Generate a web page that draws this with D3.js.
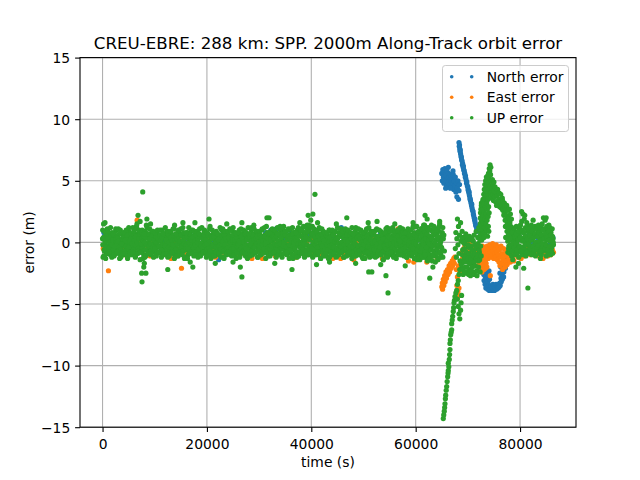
<!DOCTYPE html>
<html>
<head>
<meta charset="utf-8">
<script src="https://cdn.jsdelivr.net/npm/d3@7"></script>
<style>
  body { margin: 0; background: #fff; }
  text { font-family: "DejaVu Sans", sans-serif; }
</style>
</head>
<body>
<svg id="chart" width="640" height="480"></svg>
<script>
// ---- chart data (time in s, error in m) ----
const titleText = 'CREU-EBRE: 288 km: SPP. 2000m Along-Track orbit error';
const xTicks = [0, 20000, 40000, 60000, 80000];
const yTicks = [-15, -10, -5, 0, 5, 10, 15];
const seriesNames = ['North error', 'East error', 'UP error'];
const seriesColors = ['#1f77b4', '#ff7f0e', '#2ca02c'];

// North error
const northBand = [
[250,0.8],[750,0.5],[1250,-0.3],[1750,0.2],[2250,-0.6],[2750,0.4],[3250,0.0],[3750,-0.5],[4250,0.6],[4750,-0.2],
[5250,0.3],[5750,-0.7],[6250,0.1],[6750,0.5],[7250,-0.4],[7750,0.7],[8250,-0.1],[8750,-0.6],[9250,0.2],[9750,0.4],
[10250,-0.3],[10750,0.6],[11250,-0.5],[11750,0.0],[12250,0.3],[12750,-0.8],[13250,0.5],[13750,-0.2],[14250,0.1],[14750,0.6],
[15250,-0.4],[15750,0.2],[16250,-0.6],[16750,0.7],[17250,0.0],[17750,-0.3],[18250,0.4],[18750,-0.7],[19250,0.3],[19750,-0.1],
[20250,0.5],[20750,-0.5],[21250,0.2],[22250,-1.4],[22750,0.6],[23250,-0.2],[23750,0.1],[24250,-0.6],[24750,0.4],[25250,0.0],
[25750,-0.4],[26250,0.7],[26750,-0.1],[27250,0.3],[27750,-0.7],[28250,0.5],[28750,0.1],[29250,-0.3],[29750,0.6],[30250,-0.5],
[30750,0.2],[31250,0.8],[31750,-0.2],[32250,1.0],[32750,0.4],[33250,1.1],[33750,-0.4],[34250,0.9],[34750,0.2],[35250,-0.6],
[35750,1.0],[36250,0.3],[36750,-0.3],[37250,0.7],[37750,-0.1],[38250,0.5],[38750,-0.7],[39250,0.2],[39750,0.6],[40250,-0.2],
[40750,0.4],[41250,-0.5],[41750,0.1],[42250,0.6],[42750,-0.3],[43250,0.2],[43750,-0.8],[44250,0.5],[44750,0.0],[45250,-0.4],
[45750,1.2],[46250,0.3],[46750,-0.6],[47250,0.2],[47750,0.7],[48250,-0.2],[48750,0.4],[49250,-0.5],[49750,0.1],[50250,0.6],
[50750,-0.3],[51250,0.5],[51750,-0.1],[52250,0.3],[52750,-0.6],[53250,0.8],[53750,0.0],[54250,-0.4],[54750,0.9],[55250,0.2],
[55750,-0.5],[56250,0.4],[56750,0.1],[57250,-0.3],[57750,0.6],[58250,-0.7],[58750,0.3],[59250,-0.1],[59750,0.5],[60250,-0.4],
[60750,0.2],[61250,0.7],[61750,-0.6],[62250,0.4],[62750,-0.2],[63250,0.9],[63750,-0.8],[64250,0.3],[64750,0.1]
];
const northCluster = [
[65000,5.6],[65100,5.0],[65200,5.9],[65300,5.3],[65400,4.8],[65500,5.7],[65600,6.0],[65700,5.1],[65800,5.5],[65900,4.6],
[66000,5.8],[66100,5.2],[66200,4.9],[66300,5.6],[66400,5.3],[66500,4.7],[66600,5.5],[66700,5.0],[66800,5.4],[66900,4.5],
[67000,5.2],[67100,4.8],[67200,5.5],[67300,4.3],[67400,5.0],[67500,4.6],[67600,5.3],[67700,4.1],[67800,4.8],[67900,3.7],
[68000,4.4],[68100,5.0],[68200,3.5],[68300,4.2],[68400,4.7],[65350,5.0],[65750,4.4],[66250,6.1],[66650,4.4],[67150,5.8]
];
const northLine = [
[68300,8.1],[68350,7.8],[68400,7.9],[68450,7.6],[68500,7.4],[68550,7.5],[68600,7.2],[68700,7.0],[68750,6.9],[68800,6.7],
[68900,6.6],[68950,6.3],[69000,6.4],[69100,6.1],[69150,6.2],[69200,5.9],[69300,5.8],[69350,5.6],[69400,5.6],[69500,5.3],
[69550,5.4],[69600,5.2],[69700,5.0],[69750,4.8],[69800,4.9],[69900,4.6],[70000,4.5],[70050,4.3],[70100,4.2],[70200,4.0],
[70250,4.1],[70300,3.8],[70400,3.6],[70450,3.5],[70500,3.4],[70600,3.2],[70700,3.0],[70750,3.1],[70800,2.8],[70900,2.6],
[71000,2.5],[71050,2.3],[71100,2.2],[71200,2.0],[71300,1.8],[71350,1.9],[71400,1.6],[71500,1.4],[71600,1.3],[71700,1.1],
[71800,0.9]
];
const northDip = [
[72900,-1.2],[72950,-2.0],[73000,-1.6],[73050,-2.6],[73100,-3.1],[73150,-1.9],[73200,-2.4],[73300,-3.4],[73350,-2.8],[73400,-1.4],
[73450,-3.7],[73500,-2.2],[73600,-3.0],[73650,-3.6],[73700,-2.5],[73800,-3.8],[73850,-3.2],[73900,-2.7],[74000,-3.5],[74050,-2.3],
[74100,-3.9],[74150,-3.0],[74300,-3.6],[74400,-3.8],[74500,-3.5],[74600,-3.9],[74700,-3.7],[74800,-3.4],[74900,-3.8],[75000,-3.6],
[75100,-3.9],[75200,-3.5],[75300,-3.7],[75400,-3.4],[75500,-3.8],[75600,-3.6],[75700,-3.5],[75800,-3.7],[75900,-3.4],[76000,-3.6],
[76100,-3.3],[76150,-2.5],[76200,-3.5],[76300,-2.0],[76350,-2.9],[76400,-3.2],[76500,-1.8],[76550,-2.6],[76600,-3.0],[76700,-2.2],
[76800,-1.6],[76850,-2.8],[76900,-2.4],[77000,-1.9],[77100,-1.5],[77200,-2.1],[77300,-1.7],[77400,-1.3],[77500,-1.0]
];
const northTail = [
[77800,0.3],[78300,-0.4],[78800,0.5],[79300,-0.2],[79800,0.6],[80300,-0.5],[80800,0.2],[81300,-0.3],[81800,0.7],[82300,0.0],
[82800,-0.6],[83300,0.4],[83800,-0.2],[84300,0.5],[84800,-0.4],[85300,0.3],[85800,-0.1],[86300,0.4]
];

// East error
const eastBand = [
[125,-0.5],[1125,-2.3],[1625,-0.2],[2125,0.3],[2625,-0.8],[3125,0.1],[3625,-0.4],[4125,-1.0],[4625,0.5],[625,-0.6],
[5125,0.2],[5625,-0.9],[6125,-0.3],[6625,1.8],[7125,-0.1],[7625,-0.7],[8125,0.4],[8625,-0.5],[9125,-1.1],[9625,0.0],
[10125,-0.4],[10625,0.3],[11125,-0.8],[11625,-0.2],[12125,0.5],[12625,-0.6],[13125,-1.3],[13625,-0.1],[14125,-0.5],[14625,0.2],
[15125,-2.1],[15625,-0.3],[16125,-0.9],[16625,0.1],[17125,-0.6],[17625,-0.2],[18125,0.4],[18625,-1.0],[19125,-0.4],[19625,0.0],
[20125,-0.7],[20625,0.3],[21125,-0.5],[21625,-1.2],[22125,-0.1],[22625,0.2],[23125,-0.8],[23625,-0.3],[24125,0.5],[24625,-0.6],
[25125,-0.2],[25625,-1.0],[26125,0.1],[26625,-0.5],[27125,-0.9],[27625,0.4],[28125,-0.3],[28625,-1.3],[29125,-0.1],[29625,0.2],
[30125,-0.6],[30625,-1.3],[31125,0.3],[31625,-0.8],[32125,-0.4],[32625,0.1],[33125,-1.1],[33625,-0.5],[34125,0.6],[34625,-0.3],
[35125,-0.9],[35625,0.0],[36125,-0.4],[36625,0.3],[37125,-1.2],[37625,-0.2],[38125,0.5],[38625,-0.7],[39125,-0.1],[39625,-0.5],
[40125,0.2],[40625,-0.8],[41125,-0.3],[41625,0.4],[42125,-1.0],[42625,-0.6],[43125,0.1],[43625,-0.4],[44125,-1.3],[44625,0.0],
[45125,-0.5],[45625,-1.3],[46125,-0.9],[46625,-0.2],[47125,0.5],[47625,-0.7],[48125,-1.4],[48625,0.1],[49125,-0.3],[49625,-0.8],
[50125,0.2],[50625,-0.5],[51125,-1.1],[51625,0.4],[52125,-0.2],[52625,-0.7],[53125,0.0],[53625,-1.3],[54125,0.3],[54625,-0.4],
[55125,-0.8],[55625,0.1],[56125,-0.3],[56625,1.1],[57125,0.5],[57625,-0.6],[58125,-0.1],[58625,-1.5],[59125,0.2],[59625,-1.6],
[60125,-0.4],[60625,-1.2],[61125,-0.7],[61625,0.3],[62125,-1.6],[62625,-0.5],[63125,-1.1],[63625,-0.2],[64125,-1.4],[64625,-0.8]
];
const eastDrop = [
[65000,-3.6],[65100,-3.3],[65150,-3.8],[65250,-3.4],[65300,-3.0],[65400,-3.5],[65500,-3.1],[65550,-2.7],[65650,-3.2],[65750,-2.8],
[65800,-2.4],[65900,-2.9],[66000,-2.5],[66100,-2.2],[66200,-2.6],[66300,-2.3],[66400,-1.9],[66500,-2.4],[66600,-2.0],[66700,-1.7],
[66800,-2.1],[66900,-1.8],[67000,-1.5],[67100,-1.9],[67200,-1.6],[67300,-1.3],[67400,-1.7],[67500,-1.2],
[67800,-2.2],[67900,-3.5],[68000,-2.8],[68100,-4.0],[68200,-1.9],[68300,-3.7],[68400,-4.3],[68500,-2.5],[68600,-1.6],[68700,-2.1],
[68900,-0.8],[69000,-1.3],[69200,-0.5],[69400,-0.2],[69600,0.2],[69800,-0.4],[70000,0.3],[70200,-0.1],[70400,-0.6],[70600,0.1],
[70800,-0.9],[71000,-0.3],[71200,-1.2],[71400,-0.7],[71600,-1.5],[71800,-0.4],[72000,-1.0],[72200,-1.8]
];
const eastBlob = [
[72300,-0.6],[72350,-1.7],[72400,-1.1],[72450,-2.2],[72500,-0.4],[72550,-1.4],[72600,-1.9],[72650,-0.8],[72700,-2.4],[72750,-1.2],
[72800,-0.3],[72850,-1.6],[72900,-2.0],[72950,-0.9],[73000,-1.4],[73050,-0.5],[73100,-2.2],[73150,-1.1],[73200,-1.8],[73250,-0.7],
[73300,-1.5],[73350,-2.1],[73400,-0.4],[73450,-1.0],[73500,-1.7],[73550,-0.8],[73600,-1.3],[73650,-2.0],
[73700,-0.3],[73800,-0.9],[73900,-1.3],[74000,-0.5],[74100,-1.1],[74200,-0.2],[74300,-2.7],[74350,-0.8],[74450,-1.2],[74550,-0.4],
[74650,-1.0],[74750,-0.1],[74850,-0.7],[74950,-1.3],[75050,-0.3],[75150,-0.9],[75250,-0.5],[75350,-1.2],[75450,-0.2],[75550,-0.8],
[75650,-1.4],[75750,-0.4],[75850,-1.0],[75950,-1.6],
[76050,-0.6],[76150,-1.9],[76250,-1.2],[76350,-0.3],[76450,-1.7],[76550,-0.9],[76650,-2.2],[76750,-1.4],[76850,-0.5],[76950,-1.8],
[77050,-1.1],[77150,-2.0],[77250,-0.7],[77350,-1.5],[77450,-1.0],[77550,-1.8],
[77700,-0.8],[77850,-1.3],[78000,-1.0],[78150,-1.6],[78300,-0.9],[78450,-1.4],[78600,-1.1],[78800,-1.5],[79000,-0.9]
];
const eastTail = [
[79300,-0.7],[79600,-1.2],[79900,-0.4],[80200,-1.3],[80500,-0.8],[80800,-1.1],[81100,-0.3],[81400,-0.9],[81700,-0.5],[82000,-1.0],
[82300,-0.4],[82600,-0.7],[82900,-0.2],[83200,-0.9],[83500,-0.4],[83800,-1.2],[84100,-0.6],[84400,-1.3],[84700,-0.9],[85000,-0.5],
[85300,-1.1],[85600,-0.7],[85900,-1.0],[86200,-0.6],[86400,-0.8]
];

// UP error
const upBand = [
[0,0.3],[100,-1.2],[200,1.5],[300,-0.6],[400,0.9],[500,-0.2],[600,-1.3],[700,0.6],[800,-0.8],[900,1.1],
[1000,-0.4],[1100,0.2],[1200,-0.9],[1300,0.7],[1400,-0.1],[1500,-1.0],[1600,0.4],[1700,-0.5],[1800,0.8],[1900,-0.7],
[2000,-0.3],[2100,0.5],[2200,-1.1],[2300,0.1],[2400,-0.6],[2500,0.9],[2600,-0.2],[2700,-0.8],[2800,0.3],[2900,-0.4],
[3000,0.6],[3100,-0.9],[3200,0.0],[3300,-0.5],[3400,1.0],[3500,-1.2],[3600,0.2],[3700,-0.3],[3800,0.7],[3900,-0.7],
[4000,-0.1],[4100,0.4],[4200,-1.0],[4300,0.8],[4400,-0.6],[4500,0.1],[4600,-0.4],[4700,0.6],[4800,-1.3],[4900,0.3],
[5000,-0.8],[5100,0.9],[5200,-0.2],[5300,-0.6],[5400,0.5],[5500,-1.0],[5600,0.2],[5700,-0.5],[5800,1.2],[5900,-0.3],
[6000,0.1],[6100,-0.7],[6200,0.7],[6300,-1.1],[6400,0.4],[6500,1.3],[6600,-0.4],[6700,-0.9],[6800,0.6],[6900,-0.2],
[7000,-0.5],[7100,0.8],[7200,-1.4],[7300,0.3],[7400,-0.1],[7500,-0.8],[7600,1.0],[7700,-0.3],[7800,0.5],[7900,-1.0],
[8000,0.2],[8100,-1.2],[8200,0.9],[8300,-0.6],[8400,1.4],[8500,-0.2],[8600,0.4],[8700,-0.9],[8800,0.0],[8900,-0.5],
[9000,0.7],[9100,-0.4],[9200,-1.0],[9300,0.3],[9400,-0.7],[9500,0.6],[9600,-0.2],[9700,0.9],[9800,-0.8],[9900,0.1],
[10000,-0.6],[10100,0.4],[10200,-0.1],[10300,-1.1],[10400,0.8],[10500,-0.4],[10600,0.2],[10700,-0.8],[10800,0.5],[10900,-0.3],
[11000,0.6],[11100,-0.9],[11200,0.1],[11300,-0.5],[11400,1.0],[11500,-0.2],[11600,-1.0],[11700,0.4],[11800,-0.6],[11900,0.7],
[12000,-0.3],[12100,0.2],[12200,-0.8],[12300,0.9],[12400,-0.5],[12500,-1.2],[12600,0.5],[12700,-0.1],[12800,0.3],[12900,-0.7],
[13000,0.8],[13100,-0.4],[13200,-0.9],[13300,0.1],[13400,0.6],[13500,-0.6],[13600,-0.2],[13700,1.1],[13800,-1.0],[13900,0.3],
[14000,-0.5],[14100,0.7],[14200,-0.2],[14300,-0.8],[14400,0.4],[14500,-1.1],[14600,0.9],[14700,0.0],[14800,-0.6],[14900,0.5],
[15000,-0.1],[15100,-0.9],[15200,0.6],[15300,-0.4],[15400,1.2],[15500,-0.7],[15600,0.2],[15700,-1.3],[15800,0.4],[15900,-0.3],
[16000,0.5],[16100,-0.6],[16200,-0.1],[16300,0.8],[16400,-1.0],[16500,0.3],[16600,-0.4],[16700,0.7],[16800,-0.8],[16900,0.1],
[17000,-0.7],[17100,0.4],[17200,-0.2],[17300,1.0],[17400,-0.5],[17500,-1.1],[17600,0.6],[17700,-0.3],[17800,0.2],[17900,-0.9],
[18000,0.3],[18100,-0.5],[18200,0.8],[18300,-0.8],[18400,0.0],[18500,-0.3],[18600,1.1],[18700,-1.0],[18800,0.5],[18900,-0.2],
[19000,-0.6],[19100,0.6],[19200,-0.9],[19300,0.2],[19400,-0.4],[19500,0.9],[19600,-0.1],[19700,-0.7],[19800,0.4],[19900,-1.2],
[20000,0.1],[20100,-0.3],[20200,0.7],[20300,-0.9],[20400,0.5],[20500,-0.5],[20600,1.3],[20700,-0.2],[20800,-1.0],[20900,0.6],
[21000,-0.4],[21100,0.3],[21200,-0.8],[21300,0.8],[21400,-0.1],[21500,-1.1],[21600,0.4],[21700,-0.6],[21800,0.9],[21900,-0.3],
[22000,0.5],[22100,-0.7],[22200,0.0],[22300,-1.0],[22400,0.6],[22500,-0.4],[22600,0.2],[22700,-0.8],[22800,1.0],[22900,-0.2],
[23000,-0.5],[23100,0.7],[23200,-1.2],[23300,0.3],[23400,-0.3],[23500,0.8],[23600,-0.9],[23700,0.1],[23800,-0.6],[23900,0.5],
[24000,0.2],[24100,-0.8],[24200,0.6],[24300,-0.4],[24400,1.1],[24500,-1.0],[24600,-0.1],[24700,0.4],[24800,-0.7],[24900,0.9],
[25000,-0.3],[25100,0.5],[25200,-0.9],[25300,0.0],[25400,-0.6],[25500,0.8],[25600,-1.3],[25700,0.3],[25800,-0.2],[25900,0.6],
[26000,-0.7],[26100,0.2],[26200,1.0],[26300,-0.5],[26400,-1.0],[26500,0.4],[26600,-0.2],[26700,0.7],[26800,-0.8],[26900,0.1],
[27000,0.4],[27100,-0.6],[27200,-0.1],[27300,0.9],[27400,-1.1],[27500,0.3],[27600,-0.4],[27700,0.6],[27800,-0.9],[27900,1.2],
[28000,-0.2],[28100,0.5],[28200,-0.7],[28300,0.2],[28400,-0.5],[28500,1.0],[28600,-1.0],[28700,0.0],[28800,0.7],[28900,-0.4],
[29000,0.3],[29100,-0.9],[29200,0.6],[29300,-0.3],[29400,-0.8],[29500,0.9],[29600,-0.1],[29700,-1.2],[29800,0.4],[29900,-0.6],
[30000,0.8],[30100,-0.4],[30200,0.1],[30300,-1.0],[30400,0.5],[30500,-0.2],[30600,1.1],[30700,-0.7],[30800,-0.3],[30900,0.3],
[31000,-0.8],[31100,0.6],[31200,-0.5],[31300,0.2],[31400,1.3],[31500,-0.1],[31600,-0.9],[31700,0.7],[31800,-0.4],[31900,0.0],
[32000,0.4],[32100,-1.1],[32200,0.9],[32300,-0.6],[32400,0.1],[32500,-0.3],[32600,0.7],[32700,-0.8],[32800,1.0],[32900,-0.5],
[33000,-0.2],[33100,0.3],[33200,-0.9],[33300,0.8],[33400,-0.4],[33500,1.2],[33600,-1.0],[33700,0.5],[33800,-0.1],[33900,0.6],
[34000,-0.6],[34100,1.0],[34200,-0.3],[34300,0.2],[34400,-1.2],[34500,0.7],[34600,-0.5],[34700,1.3],[34800,0.0],[34900,-0.8],
[35000,0.5],[35100,-0.4],[35200,0.9],[35300,-1.0],[35400,0.3],[35500,-0.2],[35600,1.1],[35700,-0.7],[35800,0.6],[35900,-0.5],
[36000,0.2],[36100,-0.9],[36200,0.7],[36300,-0.1],[36400,1.2],[36500,-1.3],[36600,0.4],[36700,-0.6],[36800,0.8],[36900,-0.3],
[37000,-0.7],[37100,0.5],[37200,-0.2],[37300,1.0],[37400,-0.8],[37500,0.1],[37600,-1.1],[37700,0.6],[37800,-0.4],[37900,0.9],
[38000,0.0],[38100,-0.5],[38200,1.1],[38300,-0.9],[38400,0.4],[38500,-0.3],[38600,0.8],[38700,-1.2],[38800,0.2],[38900,-0.6],
[39000,0.7],[39100,-0.2],[39200,1.4],[39300,-0.8],[39400,0.3],[39500,-1.0],[39600,0.9],[39700,-0.4],[39800,1.2],[39900,-0.7],
[40000,0.5],[40100,-0.3],[40200,1.3],[40300,-1.1],[40400,0.8],[40500,-0.6],[40600,0.1],[40700,1.0],[40800,-0.9],[40900,0.4],
[41000,-0.4],[41100,0.6],[41200,-1.0],[41300,0.2],[41400,-0.7],[41500,1.1],[41600,-0.2],[41700,0.7],[41800,-1.3],[41900,0.3],
[42000,-0.6],[42100,0.4],[42200,-0.1],[42300,0.9],[42400,-0.9],[42500,0.0],[42600,-0.5],[42700,0.6],[42800,-1.1],[42900,0.2],
[43000,0.7],[43100,-0.8],[43200,0.3],[43300,-0.3],[43400,1.0],[43500,-1.2],[43600,-0.1],[43700,0.5],[43800,-0.6],[43900,0.8],
[44000,-0.4],[44100,0.1],[44200,-1.0],[44300,0.6],[44400,-0.2],[44500,0.9],[44600,-0.7],[44700,0.3],[44800,-0.5],[44900,-1.1],
[45000,0.4],[45100,-0.6],[45200,0.8],[45300,-0.1],[45400,-0.9],[45500,0.5],[45600,-0.4],[45700,1.1],[45800,-0.8],[45900,0.0],
[46000,-0.3],[46100,0.7],[46200,-1.2],[46300,0.2],[46400,-0.5],[46500,1.0],[46600,-0.7],[46700,0.4],[46800,-0.2],[46900,0.9],
[47000,-0.9],[47100,0.3],[47200,-0.4],[47300,0.8],[47400,-1.0],[47500,0.1],[47600,0.6],[47700,-0.6],[47800,1.2],[47900,-0.3],
[48000,0.5],[48100,-0.8],[48200,0.0],[48300,-0.4],[48400,0.9],[48500,-1.1],[48600,0.3],[48700,-0.2],[48800,0.7],[48900,-0.7],
[49000,-0.5],[49100,0.6],[49200,-1.0],[49300,0.2],[49400,-0.3],[49500,1.0],[49600,-0.8],[49700,0.4],[49800,-0.1],[49900,-1.3],
[50000,0.3],[50100,-0.6],[50200,0.8],[50300,-0.9],[50400,0.1],[50500,-0.4],[50600,1.1],[50700,-0.7],[50800,0.5],[50900,-1.0],
[51000,-0.2],[51100,0.7],[51200,-1.2],[51300,0.4],[51400,-0.5],[51500,0.9],[51600,-0.8],[51700,0.0],[51800,0.6],[51900,-0.3],
[52000,0.8],[52100,-0.9],[52200,0.2],[52300,-0.6],[52400,1.0],[52500,-0.1],[52600,-1.1],[52700,0.5],[52800,-0.4],[52900,0.3],
[53000,-0.7],[53100,0.4],[53200,-0.3],[53300,0.9],[53400,-1.0],[53500,0.1],[53600,-0.5],[53700,0.7],[53800,-1.4],[53900,0.2],
[54000,0.6],[54100,-0.2],[54200,-0.8],[54300,1.1],[54400,-0.5],[54500,0.3],[54600,-1.2],[54700,0.8],[54800,-0.3],[54900,0.0],
[55000,-0.6],[55100,0.9],[55200,-0.1],[55300,-1.0],[55400,0.5],[55500,-0.4],[55600,1.2],[55700,-0.8],[55800,0.2],[55900,-0.5],
[56000,0.4],[56100,-1.1],[56200,0.7],[56300,-0.3],[56400,0.1],[56500,-0.7],[56600,1.0],[56700,-0.2],[56800,-0.9],[56900,0.6],
[57000,-0.4],[57100,0.8],[57200,-1.0],[57300,0.3],[57400,-0.6],[57500,1.1],[57600,-0.1],[57700,-0.8],[57800,0.5],[57900,-0.3],
[58000,0.2],[58100,-0.7],[58200,0.9],[58300,-1.2],[58400,0.4],[58500,-0.2],[58600,0.7],[58700,-0.9],[58800,1.0],[58900,-0.5],
[59000,-0.1],[59100,0.6],[59200,-1.1],[59300,0.3],[59400,-0.6],[59500,1.2],[59600,-0.4],[59700,0.8],[59800,-1.3],[59900,0.1],
[60000,0.5],[60100,-0.8],[60200,1.3],[60300,-0.3],[60400,-1.0],[60500,0.7],[60600,-0.5],[60700,0.2],[60800,-1.4],[60900,0.9],
[61000,-0.2],[61100,1.1],[61200,-0.9],[61300,0.4],[61400,-1.2],[61500,0.6],[61600,-0.6],[61700,1.4],[61800,-0.3],[61900,0.0],
[62000,0.8],[62100,-1.3],[62200,0.3],[62300,-0.7],[62400,1.2],[62500,-0.4],[62600,0.5],[62700,-1.0],[62800,0.1],[62900,1.0],
[63000,-0.6],[63100,0.4],[63200,-1.5],[63300,0.9],[63400,-0.2],[63500,1.3],[63600,-0.9],[63700,0.6],[63800,-1.1],[63900,0.2],
[64000,0.7],[64100,-0.4],[64200,1.1],[64300,-1.3],[64400,0.3],[64500,-0.8],[64600,1.5],[64700,-0.1],[64800,-1.0],[64900,0.5],
[65000,-0.5],[65100,0.8],[65200,-1.2],[65300,0.3],[65400,0.6],[65500,-0.7]
];
const upBandCore = [
[50,-0.2],[200,0.4],[350,-0.7],[500,0.1],[650,-0.4],[800,0.6],[950,-0.9],
[1050,0.3],[1200,-0.5],[1350,0.0],[1500,-0.8],[1650,0.5],[1800,-0.2],[1950,0.2],
[2050,-0.6],[2200,0.6],[2350,-0.3],[2500,0.2],[2650,-0.9],[2800,0.0],[2950,0.4],
[3050,0.1],[3200,-0.4],[3350,0.7],[3500,-0.6],[3650,-0.1],[3800,0.3],[3950,-0.8],
[4050,0.5],[4200,-0.7],[4350,0.2],[4500,-0.3],[4650,0.6],[4800,-0.5],[4950,0.0],
[5050,-0.4],[5200,0.1],[5350,-0.8],[5500,0.4],[5650,-0.1],[5800,0.7],[5950,-0.6],
[6050,0.2],[6200,-0.2],[6350,0.5],[6500,-0.9],[6650,0.0],[6800,-0.5],[6950,0.3],
[7050,-0.7],[7200,0.6],[7350,-0.1],[7500,0.3],[7650,-0.5],[7800,0.1],[7950,0.5],
[8050,0.0],[8200,-0.6],[8350,0.4],[8500,-0.2],[8650,0.7],[8800,-0.8],[8950,-0.3],
[9050,0.3],[9200,-0.1],[9350,-0.7],[9500,0.5],[9650,-0.4],[9800,0.2],[9950,-0.6],
[10050,-0.5],[10200,0.5],[10350,0.0],[10500,-0.8],[10650,0.3],[10800,-0.3],[10950,0.6],
[11050,0.1],[11200,-0.6],[11350,0.4],[11500,-0.2],[11650,-0.9],[11800,0.6],[11950,-0.1],
[12050,-0.3],[12200,0.2],[12350,-0.6],[12500,0.7],[12650,-0.4],[12800,0.0],[12950,-0.8],
[13050,0.4],[13200,-0.5],[13350,0.1],[13500,-0.2],[13650,0.6],[13800,-0.7],[13950,0.2],
[14050,-0.6],[14200,0.3],[14350,-0.1],[14500,0.5],[14650,-0.8],[14800,0.1],[14950,-0.4],
[15050,0.6],[15200,-0.3],[15350,-0.7],[15500,0.2],[15650,-0.1],[15800,0.4],[15950,-0.5],
[16050,-0.2],[16200,0.5],[16350,-0.5],[16500,0.0],[16650,0.7],[16800,-0.9],[16950,0.3],
[17050,0.2],[17200,-0.8],[17350,0.4],[17500,-0.4],[17650,0.1],[17800,-0.2],[17950,0.6],
[18050,-0.7],[18200,0.0],[18350,0.3],[18500,-0.5],[18650,0.5],[18800,-0.1],[18950,-0.3],
[19050,0.4],[19200,-0.4],[19350,-0.8],[19500,0.6],[19650,-0.2],[19800,0.2],[19950,-0.6],
[20050,-0.1],[20200,0.6],[20350,-0.5],[20500,0.1],[20650,-0.7],[20800,0.4],[20950,-0.3],
[21050,0.3],[21200,-0.2],[21350,0.5],[21500,-0.9],[21650,0.0],[21800,-0.4],[21950,0.7],
[22050,-0.5],[22200,0.2],[22350,-0.3],[22500,0.4],[22650,-0.6],[22800,0.6],[22950,-0.1],
[23050,0.1],[23200,-0.7],[23350,0.6],[23500,-0.2],[23650,0.3],[23800,-0.5],[23950,-0.8],
[24050,-0.4],[24200,0.4],[24350,-0.1],[24500,0.0],[24650,-0.6],[24800,0.5],[24950,0.2],
[25050,0.6],[25200,-0.5],[25350,0.2],[25500,-0.8],[25650,0.4],[25800,-0.3],[25950,-0.1],
[26050,-0.2],[26200,0.1],[26350,-0.6],[26500,0.5],[26650,-0.4],[26800,0.3],[26950,-0.7],
[27050,0.0],[27200,-0.3],[27350,0.7],[27500,-0.5],[27650,0.2],[27800,-0.9],[27950,0.4],
[28050,-0.6],[28200,0.5],[28350,-0.2],[28500,0.1],[28650,-0.7],[28800,0.6],[28950,-0.4],
[29050,0.2],[29200,-0.4],[29350,0.3],[29500,-0.1],[29650,0.5],[29800,-0.6],[29950,0.0],
[30050,-0.3],[30200,0.6],[30350,-0.8],[30500,0.4],[30650,-0.2],[30800,0.1],[30950,-0.5],
[31050,0.5],[31200,-0.1],[31350,0.0],[31500,-0.7],[31650,0.3],[31800,-0.4],[31950,0.7],
[32050,-0.5],[32200,0.2],[32350,-0.3],[32500,0.6],[32650,-0.9],[32800,0.4],[32950,-0.1],
[33050,0.3],[33200,-0.6],[33350,0.5],[33500,-0.2],[33650,0.1],[33800,-0.8],[33950,0.6],
[34050,-0.1],[34200,0.4],[34350,-0.5],[34500,0.7],[34650,-0.3],[34800,0.0],[34950,0.8],
[35050,0.6],[35200,-0.4],[35350,0.2],[35500,-0.7],[35650,0.5],[35800,-0.2],[35950,0.3],
[36050,-0.6],[36200,0.1],[36350,0.7],[36500,-0.3],[36650,0.0],[36800,-0.5],[36950,0.4],
[37050,0.2],[37200,-0.8],[37350,0.4],[37500,-0.1],[37650,0.6],[37800,-0.4],[37950,-0.2],
[38050,-0.4],[38200,0.5],[38350,-0.6],[38500,0.3],[38650,-0.1],[38800,0.8],[38950,-0.7],
[39050,0.4],[39200,-0.2],[39350,0.9],[39500,-0.5],[39650,0.2],[39800,-0.3],[39950,0.6],
[40050,-0.5],[40200,0.7],[40350,0.0],[40500,-0.6],[40650,0.4],[40800,-0.2],[40950,0.9],
[41050,0.1],[41200,-0.4],[41350,0.5],[41500,-0.8],[41650,0.2],[41800,-0.1],[41950,0.6],
[42050,-0.3],[42200,0.3],[42350,-0.7],[42500,0.1],[42650,-0.5],[42800,0.6],[42950,-0.2],
[43050,0.5],[43200,-0.6],[43350,0.0],[43500,0.4],[43650,-0.3],[43800,-0.8],[43950,0.2],
[44050,-0.2],[44200,0.6],[44350,-0.4],[44500,0.1],[44650,-0.7],[44800,0.3],[44950,-0.5],
[45050,0.3],[45200,-0.1],[45350,-0.6],[45500,0.5],[45650,-0.3],[45800,0.0],[45950,0.7],
[46050,-0.7],[46200,0.4],[46350,-0.2],[46500,0.2],[46650,-0.5],[46800,0.6],[46950,-0.1],
[47050,0.1],[47200,-0.5],[47350,0.6],[47500,-0.3],[47650,0.3],[47800,-0.8],[47950,0.0],
[48050,-0.4],[48200,0.2],[48350,-0.1],[48500,0.7],[48650,-0.6],[48800,0.4],[48950,-0.3],
[49050,0.5],[49200,-0.7],[49350,0.3],[49500,-0.2],[49650,0.0],[49800,-0.5],[49950,0.6],
[50050,-0.2],[50200,0.4],[50350,-0.8],[50500,0.1],[50650,0.5],[50800,-0.3],[50950,0.0],
[51050,0.3],[51200,-0.5],[51350,0.2],[51500,-0.6],[51650,0.7],[51800,-0.1],[51950,-0.4],
[52050,-0.6],[52200,0.1],[52350,0.5],[52500,-0.3],[52650,-0.1],[52800,0.4],[52950,-0.7],
[53050,0.2],[53200,-0.4],[53350,0.0],[53500,0.6],[53650,-0.8],[53800,0.3],[53950,-0.2],
[54050,-0.3],[54200,0.7],[54350,-0.5],[54500,0.1],[54650,-0.2],[54800,0.5],[54950,-0.6],
[55050,0.4],[55200,-0.1],[55350,-0.7],[55500,0.3],[55650,-0.4],[55800,0.0],[55950,0.6],
[56050,-0.5],[56200,0.3],[56350,-0.2],[56500,0.5],[56650,-0.9],[56800,0.2],[56950,-0.1],
[57050,0.1],[57200,-0.6],[57350,0.6],[57500,-0.3],[57650,0.4],[57800,-0.5],[57950,0.0],
[58050,-0.4],[58200,0.2],[58350,-0.8],[58500,0.7],[58650,-0.2],[58800,0.1],[58950,-0.6],
[59050,0.5],[59200,-0.3],[59350,0.3],[59500,-0.5],[59650,0.0],[59800,0.6],[59950,-0.9],
[60050,-0.1],[60200,0.4],[60350,-0.6],[60500,0.8],[60650,-0.3],[60800,0.2],[60950,-0.7],
[61050,0.6],[61200,-0.5],[61350,0.1],[61500,-0.2],[61650,0.9],[61800,-0.8],[61950,0.3],
[62050,-0.4],[62200,0.7],[62350,-1.0],[62500,0.2],[62650,-0.1],[62800,0.5],[62950,-0.6],
[63050,0.3],[63200,-0.3],[63350,0.8],[63500,-0.7],[63650,0.0],[63800,-0.9],[63950,0.6],
[64050,-0.5],[64200,0.5],[64350,-0.2],[64500,0.9],[64650,-0.8],[64800,0.1],[64950,-0.4]
];
const upBandEdge = [
[25,1.0],[275,-1.1],[525,0.8],[775,-0.9],[1025,0.9],[1275,-0.8],[1525,1.2],[1775,-1.2],
[2025,0.7],[2275,-1.0],[2525,1.1],[2775,-0.8],[3025,1.1],[3275,-1.3],[3525,0.8],[3775,-1.0],
[4025,0.8],[4275,-0.9],[4525,1.0],[4775,-1.1],[5025,1.2],[5275,-1.0],[5525,0.7],[5775,-0.8],
[6025,0.9],[6275,-1.2],[6525,1.1],[6775,-0.9],[7025,1.0],[7275,-0.8],[7525,0.8],[7775,-1.3],
[8025,0.7],[8275,-1.1],[8525,1.2],[8775,-0.9],[9025,1.1],[9275,-0.9],[9525,0.9],[9775,-1.2],
[10025,0.8],[10275,-1.0],[10525,1.0],[10775,-0.8],[11025,1.0],[11275,-1.2],[11525,0.7],[11775,-1.0],
[12025,1.2],[12275,-0.9],[12525,0.9],[12775,-1.1],[13025,0.9],[13275,-0.8],[13525,1.1],[13775,-1.3],
[14025,0.7],[14275,-1.1],[14525,1.0],[14775,-0.9],[15025,1.1],[15275,-1.0],[15525,0.8],[15775,-1.2],
[16025,0.8],[16275,-1.3],[16525,1.2],[16775,-0.8],[17025,1.0],[17275,-0.9],[17525,0.9],[17775,-1.0],
[18025,0.9],[18275,-1.2],[18525,0.7],[18775,-1.1],[19025,1.2],[19275,-0.8],[19525,1.0],[19775,-0.9],
[20025,0.8],[20275,-1.0],[20525,1.1],[20775,-1.3],[21025,1.0],[21275,-1.1],[21525,0.8],[21775,-0.8],
[22025,0.7],[22275,-0.9],[22525,1.2],[22775,-1.2],[23025,1.1],[23275,-1.3],[23525,0.9],[23775,-1.0],
[24025,0.9],[24275,-0.8],[24525,1.0],[24775,-1.1],[25025,1.2],[25275,-1.0],[25525,0.7],[25775,-0.9],
[26025,0.8],[26275,-1.2],[26525,1.1],[26775,-0.8],[27025,1.0],[27275,-0.9],[27525,0.8],[27775,-1.3],
[28025,0.7],[28275,-1.1],[28525,1.2],[28775,-1.0],[29025,1.1],[29275,-0.8],[29525,0.9],[29775,-1.2],
[30025,0.9],[30275,-1.0],[30525,1.0],[30775,-0.9],[31025,1.2],[31275,-1.3],[31525,0.8],[31775,-1.1],
[32025,0.8],[32275,-0.9],[32525,1.1],[32775,-0.8],[33025,1.0],[33275,-1.2],[33525,0.7],[33775,-1.0],
[34025,1.3],[34275,-1.0],[34525,1.2],[34775,-0.9],[35025,0.9],[35275,-0.8],[35525,1.0],[35775,-1.3],
[36025,1.1],[36275,-1.1],[36525,0.8],[36775,-1.0],[37025,0.8],[37275,-1.2],[37525,1.2],[37775,-0.8],
[38025,1.0],[38275,-0.9],[38525,1.3],[38775,-1.1],[39025,1.2],[39275,-1.0],[39525,1.4],[39775,-0.9],
[40025,1.3],[40275,-1.2],[40525,1.1],[40775,-1.0],[41025,0.9],[41275,-0.8],[41525,1.2],[41775,-1.3],
[42025,1.1],[42275,-1.1],[42525,0.8],[42775,-0.9],[43025,0.8],[43275,-1.3],[43525,1.0],[43775,-1.0],
[44025,1.0],[44275,-0.9],[44525,0.9],[44775,-1.2],[45025,1.2],[45275,-1.0],[45525,0.7],[45775,-0.8],
[46025,0.9],[46275,-1.2],[46525,1.1],[46775,-1.1],[47025,1.0],[47275,-0.8],[47525,0.8],[47775,-1.3],
[48025,0.7],[48275,-1.1],[48525,1.2],[48775,-0.9],[49025,1.1],[49275,-1.0],[49525,0.9],[49775,-1.2],
[50025,0.8],[50275,-1.3],[50525,1.0],[50775,-0.8],[51025,1.2],[51275,-0.9],[51525,0.8],[51775,-1.1],
[52025,0.9],[52275,-1.2],[52525,1.1],[52775,-1.0],[53025,1.0],[53275,-1.0],[53525,0.7],[53775,-1.4],
[54025,0.8],[54275,-1.1],[54525,1.2],[54775,-0.9],[55025,1.1],[55275,-0.8],[55525,0.9],[55775,-1.2],
[56025,0.9],[56275,-1.3],[56525,1.0],[56775,-1.0],[57025,1.2],[57275,-1.0],[57525,0.8],[57775,-1.1],
[58025,0.8],[58275,-1.2],[58525,1.1],[58775,-0.9],[59025,1.0],[59275,-0.9],[59525,1.3],[59775,-1.3],
[60025,1.3],[60275,-1.4],[60525,0.9],[60775,-1.1],[61025,1.1],[61275,-1.2],[61525,1.4],[61775,-1.0],
[62025,1.2],[62275,-1.5],[62525,1.0],[62775,-1.3],[63025,1.4],[63275,-1.1],[63525,1.2],[63775,-1.6],
[64025,1.0],[64275,-1.4],[64525,1.3],[64775,-1.2]
];
const upBandOutliers = [
[470,1.6],[6600,1.5],[6800,2.2],[7200,1.7],[7500,-2.5],[7560,-3.2],[7700,4.1],[7900,-2.0],[8300,-2.5],[8500,1.9],
[8000,-1.7],[9200,1.5],[12500,-2.2],[13800,1.4],[15400,1.6],[17700,1.6],[17300,-2.0],[16800,-1.6],[20400,1.9],[21600,-1.7],
[23800,1.5],[26700,1.6],[26400,-2.0],[26700,-2.8],[25000,-1.6],[29000,1.4],[31500,2.0],[31900,2.0],[33000,-1.7],[36300,-2.2],
[37800,1.6],[39400,2.2],[39900,1.8],[40300,2.3],[40700,3.9],[41200,1.6],[41000,-1.8],[43500,-1.6],[44800,1.5],[46800,2.0],
[48500,-1.7],[50900,1.6],[51000,-2.4],[51600,-2.4],[52600,1.7],[53300,-1.8],[54300,-2.7],[54700,-4.1],[56000,1.5],[58000,-1.9],
[59500,1.6],[61800,2.2],[62200,1.9],[62700,-2.9],[63300,-2.0],[64600,1.7],[65200,1.2]
];
const upSpike = [
[65290,-14.3],[65380,-14.0],[65480,-13.7],[65550,-13.4],[65615,-13.1],[65690,-12.7],[65750,-12.4],[65850,-12.0],[65940,-11.7],[66030,-11.3],
[66130,-10.9],[66200,-10.6],[66250,-10.4],[66250,-9.8],[66350,-10.1],[66440,-9.5],[66500,-9.1],[66570,-8.7],[66570,-8.2],[66640,-7.9],
[66710,-7.5],[66800,-7.3],[66900,-7.1],[66900,-6.6],[67000,-6.3],[67090,-6.0],[67200,-5.6],[67270,-5.3],[67340,-4.9],[67430,-4.7],
[67530,-4.4],[67700,-4.1],[67860,-3.9],[68000,-3.4],[68160,-3.1],[68300,-2.6],[68450,-2.2],
[68000,-4.6],[68150,-5.2],[68300,-5.8],[68450,-6.2],[68600,-5.5],[68700,-4.9],[68800,-4.3]
];
const upMid = [
[67600,-0.5],[67700,0.8],[67800,-1.2],[67900,0.3],[68000,1.9],[68100,-0.2],[68200,1.3],[68300,-0.9],[68400,0.6],[68500,-1.5],
[68600,1.6],[68700,0.1],[68800,-2.1],[68900,0.9],[69000,-0.6],[69100,-2.6],[69200,0.4],[69300,-1.3],[69400,-0.1],[69500,-2.0],
[69600,0.7],[69700,-1.0],[69800,-2.5],[69900,0.2],[70000,-1.6],[70100,-0.4],[70200,-2.2],[70300,0.5],[70400,-1.1],[70500,-2.7],
[70600,-0.3],[70700,-1.8],[70800,0.3],[70900,-1.4],[71000,-2.4],[71100,-0.7],[71200,0.6],[71300,-1.9],[71400,-0.2],[71500,-1.2],
[71600,0.9],[71700,-2.3],[71800,-0.5],[71900,0.4],[72000,-1.5],[72100,1.2],[72200,-0.8],[72300,0.3],
[68750,-1.8],[68850,0.4],[68950,-1.0],[69050,-2.2],[69150,0.0],[69250,-1.6],[69350,-0.5],[69450,-2.4],[69550,-1.2],[69650,0.5],
[69750,-0.8],[69850,-2.0],[69950,-1.3],[70050,-0.2],[70150,-2.6],[70250,-0.9],[70350,-1.7],[70450,0.2],[70550,-1.4],[70650,-2.3],
[70750,-0.6],[70850,-2.0],[70950,-1.0],[71050,0.1],[71150,-1.6],[71250,-2.6],[71350,-0.9],[71450,-1.9],[71550,-0.4],[71650,-1.3],
[71750,-2.7],[71850,-1.1],[71950,-0.1],[72050,-2.0],[72150,-0.6],[72250,-1.4],[72350,-2.4],[72450,-0.3],[72550,-1.1],[72650,0.2]
];
const upArch = [
[72300,0.5],[72350,1.2],[72400,2.0],[72450,0.8],[72500,2.7],[72550,1.6],[72600,3.2],[72650,0.4],[72700,2.3],[72750,1.0],
[72800,3.0],[72850,1.8],[72900,3.5],[72950,2.6],[73000,0.9],[73050,3.9],[73100,2.1],[73150,4.3],[73200,3.1],
[73250,4.7],[73300,2.8],[73350,3.8],[73400,5.0],[73450,4.2],[73500,3.3],[73550,5.3],[73600,4.6],[73650,3.7],[73700,5.1],
[73750,4.0],[73800,5.4],[73850,3.5],[73900,4.8],[73950,5.6],[74000,4.3],[74050,5.2],[74100,6.0],[74150,3.9],[74200,5.8],
[74250,6.3],[74300,4.6],[74350,5.5],[74400,6.1],[74450,4.1],[74500,5.0],[74550,3.6],[74600,4.4],[74700,5.1],[74750,3.9],
[74800,4.7],[74900,3.4],[74950,4.2],[75000,4.9],[75100,3.7],[75200,4.5],[75300,3.3],[75400,4.1],[75500,3.0],[75600,3.8],
[75700,4.3],[75800,3.1],[75900,3.5],[76000,4.0],[76100,2.9],[76200,3.3],[76300,3.9],[76400,2.8],[76500,3.0],[76600,3.6],
[76700,2.6],[76800,2.8],[76900,2.2],[77000,3.2],[77100,2.3],[77200,1.3],[77300,2.6],[77400,1.8],[77500,0.9],[77600,2.1],
[77700,1.4],[77800,0.6],[77900,1.7],[78000,1.0],[78100,0.3],[78200,1.3],
[72320,0.2],[72380,1.5],[72420,2.4],[72480,0.6],[72520,1.9],[72580,3.0],[72620,1.1],[72680,2.6],[72720,0.3],[72780,1.4],
[72820,3.3],[72880,2.2],[72920,0.7],[72980,1.6],[73020,3.1],[73080,0.4],[73120,2.5],[73180,1.2],[73220,3.6],[73280,1.9],
[73320,0.8],[73380,2.9],[73420,1.5],[73480,3.8],[73520,2.3],[73580,1.0],[73620,3.2],[73680,1.8],[73720,2.7],[73780,0.5],
[73820,3.5],[73880,2.1],[73920,1.3],[73980,2.9],[74020,0.9],[74080,2.4],
[76550,3.0],[76650,3.4],[76750,2.7],[76850,3.1],[76950,2.3],[77050,2.9],[77150,1.8],[77250,0.4],[77350,2.2],[77450,3.0],
[77550,1.5],[77650,2.6],[77750,0.9],[77850,2.0],[77950,2.7],[78050,1.6],[78150,2.3],[78250,0.8],[78350,1.9],[78450,1.2]
];
const upTail = [
[77600,0.4],[77680,-0.8],[77760,1.1],[77840,-0.3],[77920,0.7],[78000,-0.9],[78080,0.2],[78160,1.2],[78240,-0.5],[78320,0.6],
[78400,-1.1],[78480,0.9],[78560,-0.2],[78640,0.4],[78720,-0.7],[78800,1.0],[78880,-0.4],[78960,0.3],[79040,-1.0],[79120,0.8],
[79200,-0.6],[79280,1.3],[79360,0.0],[79440,-0.9],[79520,0.5],[79600,0.9],[79680,-0.3],[79760,-1.2],[79840,0.6],[79920,1.1],
[80000,-0.5],[80080,1.4],[80160,0.2],[80240,-0.8],[80320,1.7],[80400,0.3],[80480,-1.0],[80560,2.3],[80640,0.8],[80720,-0.4],
[80800,1.9],[80880,-0.7],[80960,0.5],[81040,1.2],[81120,-1.1],[81200,0.1],[81280,1.6],[81360,-0.6],[81440,0.9],[81520,-0.2],
[81600,1.3],[81680,-0.9],[81760,0.4],[81840,-0.3],[81920,1.0],[82000,-0.7],[82080,0.7],[82160,1.4],[82240,-1.0],[82320,0.2],
[82400,0.9],[82480,-0.4],[82560,1.2],[82640,-0.8],[82720,0.5],[82800,-0.2],[82880,1.3],[82960,-1.1],[83040,0.6],[83120,0.0],
[83200,1.1],[83280,-0.6],[83360,0.8],[83440,-0.3],[83520,1.4],[83600,-0.9],[83680,0.4],[83760,1.0],[83840,-0.5],[83920,0.7],
[84000,1.2],[84080,-1.0],[84160,0.3],[84240,1.5],[84320,-0.4],[84400,0.6],[84480,2.0],[84560,-0.7],[84640,1.1],[84720,-0.1],
[84800,1.8],[84880,-0.5],[84960,0.9],[85040,-1.1],[85120,1.3],[85200,0.2],[85280,1.0],[85360,-0.8],[85440,0.6],[85520,1.4],
[85600,-0.6],[85680,1.2],[85760,0.1],[85840,-1.0],[85920,0.8],[86000,0.5],[86080,-0.4],[86160,1.1],[86240,-0.9],[86320,0.3],
[86400,-0.2],
[79200,-2.0],[79700,-1.7],[80700,-2.1],[81500,-3.7],[80300,2.5],[80900,2.2],[85000,2.0],[82500,1.8],[78600,-1.4],[83900,-1.3]
];
const upTailCore = [
[77650,0.1],[77800,-0.5],[77950,0.6],[78100,-0.2],[78250,0.3],[78400,-0.7],[78550,0.8],[78700,0.0],[78850,-0.4],[79000,0.5],
[79150,-0.1],[79300,0.7],[79450,-0.6],[79600,0.2],[79750,0.9],[79900,-0.3],[80050,0.4],[80200,-0.7],[80350,1.0],[80500,0.1],
[80650,-0.4],[80800,0.8],[80950,-0.2],[81100,0.5],[81250,-0.8],[81400,0.3],[81550,1.1],[81700,-0.1],[81850,0.6],[82000,-0.5],
[82150,0.2],[82300,0.9],[82450,-0.3],[82600,0.4],[82750,-0.6],[82900,0.7],[83050,0.0],[83200,-0.4],[83350,0.5],[83500,-0.2],
[83650,0.8],[83800,0.1],[83950,-0.7],[84100,0.6],[84250,-0.1],[84400,1.0],[84550,0.3],[84700,-0.5],[84850,0.7],[85000,-0.2],
[85150,0.4],[85300,-0.6],[85450,0.9],[85600,0.2],[85750,-0.3],[85900,0.6],[86050,-0.7],[86200,0.5],[86350,0.0]
];

const north = [...northBand, ...northCluster, ...northLine, ...northDip, ...northTail];
const east = [...eastBand, ...eastDrop, ...eastBlob, ...eastTail];
const up = [...upBand, ...upBandCore, ...upBandEdge, ...upBandOutliers, ...upSpike, ...upMid, ...upArch, ...upTail, ...upTailCore];
const seriesData = [north, east, up];

// ---- layout (matplotlib default figure 6.4x4.8 in at 100 dpi) ----
const svgWidth = 640, svgHeight = 480;
const axL = 80, axR = 576, axT = 57.6, axB = 427.2;
const fontSmall = '13.89px';   // 10 pt
const fontTitle = '16.67px';   // 12 pt

const svg = d3.select('#chart');
svg.append('rect').attr('width', svgWidth).attr('height', svgHeight).attr('fill', '#fff');

const xScale = d3.scaleLinear().domain([-4320, 90720]).range([axL, axR]);
const yScale = d3.scaleLinear().domain([-15, 15]).range([axB, axT]);

const minus = d => d < 0 ? '\u2212' + Math.abs(d) : String(d);

// grid
const grid = svg.append('g');
grid.selectAll('.gx').data(xTicks).join('line')
  .attr('x1', d => xScale(d)).attr('x2', d => xScale(d))
  .attr('y1', axT).attr('y2', axB)
  .attr('stroke', '#b0b0b0').attr('stroke-width', 1.1);
grid.selectAll('.gy').data(yTicks).join('line')
  .attr('x1', axL).attr('x2', axR)
  .attr('y1', d => yScale(d)).attr('y2', d => yScale(d))
  .attr('stroke', '#b0b0b0').attr('stroke-width', 1.1);

// points, series in plotting order
const plot = svg.append('g');
seriesData.forEach((pts, i) => {
  plot.append('g').selectAll('circle').data(pts).join('circle')
    .attr('cx', d => xScale(d[0]))
    .attr('cy', d => yScale(d[1]))
    .attr('r', 2.6)
    .attr('fill', seriesColors[i]);
});

// axes
const xAxis = svg.append('g')
  .attr('transform', `translate(0,${axB})`)
  .call(d3.axisBottom(xScale).tickValues(xTicks).tickSize(4.9).tickPadding(4.9).tickFormat(d3.format('d')));
const yAxis = svg.append('g')
  .attr('transform', `translate(${axL},0)`)
  .call(d3.axisLeft(yScale).tickValues(yTicks).tickSize(4.9).tickPadding(4.9).tickFormat(minus));
[xAxis, yAxis].forEach(a => {
  a.select('.domain').remove();
  a.selectAll('line').attr('stroke', '#000').attr('stroke-width', 1.1);
  a.selectAll('text').attr('fill', '#000')
    .style('font-family', '"DejaVu Sans", sans-serif').style('font-size', fontSmall);
});
xAxis.selectAll('text').attr('dy', '0.84em');
yAxis.selectAll('text').attr('dy', '0.36em');

// spines
svg.append('rect')
  .attr('x', axL).attr('y', axT)
  .attr('width', axR - axL).attr('height', axB - axT)
  .attr('fill', 'none').attr('stroke', '#000').attr('stroke-width', 1.1);

// labels
svg.append('text')
  .attr('x', (axL + axR) / 2).attr('y', 49.3)
  .attr('text-anchor', 'middle')
  .style('font-size', fontTitle)
  .text(titleText);
svg.append('text')
  .attr('x', (axL + axR) / 2).attr('y', 466.5)
  .attr('text-anchor', 'middle')
  .style('font-size', fontSmall)
  .text('time (s)');
svg.append('text')
  .attr('transform', `translate(34,${(axT + axB) / 2})rotate(-90)`)
  .attr('text-anchor', 'middle')
  .style('font-size', fontSmall)
  .text('error (m)');

// legend
const legend = svg.append('g').attr('transform', 'translate(442.5,65.5)');
legend.append('rect')
  .attr('width', 126).attr('height', 66).attr('rx', 2.8)
  .attr('fill', '#fff').attr('fill-opacity', 0.8)
  .attr('stroke', '#cccccc').attr('stroke-width', 1);
seriesNames.forEach((name, i) => {
  const row = legend.append('g').attr('transform', `translate(0,${11.2 + i * 20.5})`);
  [9.2, 29.2].forEach(cx => row.append('circle')
    .attr('cx', cx).attr('cy', 0).attr('r', 1.8).attr('fill', seriesColors[i]));
  row.append('text')
    .attr('x', 44.2).attr('y', 0).attr('dy', '0.36em')
    .style('font-size', fontSmall)
    .text(name);
});
</script>
</body>
</html>
